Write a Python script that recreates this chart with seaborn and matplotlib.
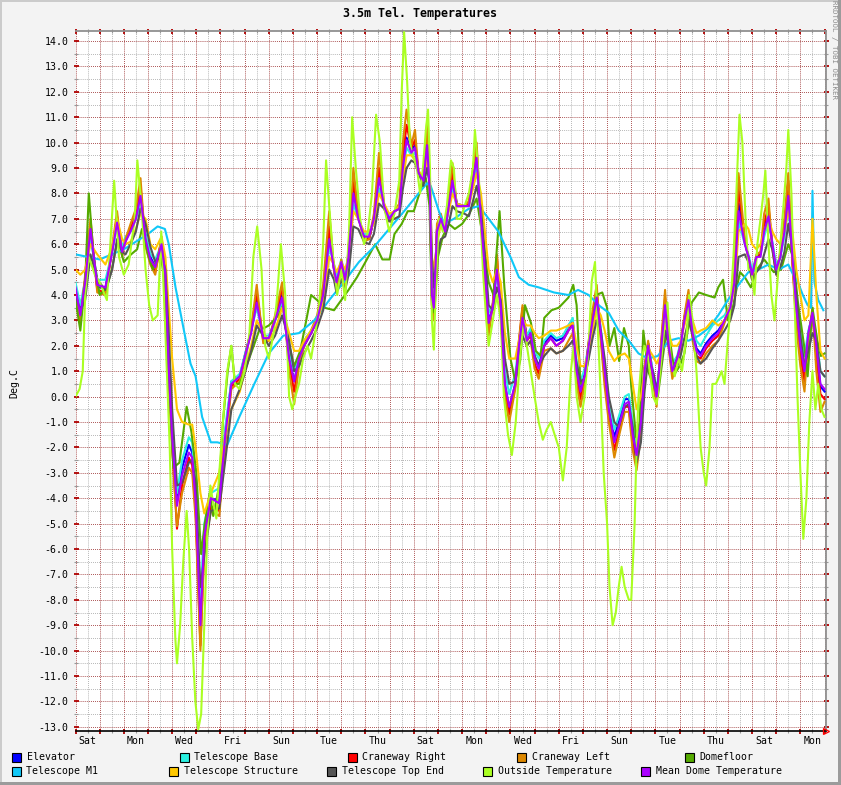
import matplotlib
matplotlib.use("Agg")
import matplotlib.pyplot as plt
import seaborn as sns
import numpy as np
import pandas as pd
from matplotlib.patches import Rectangle
from matplotlib.ticker import MultipleLocator, FixedLocator, FuncFormatter, NullFormatter, FormatStrFormatter

# ---------------- data (days since start, deg C) ----------------
T_NEAR = [
    [0.0, 0.2, 0.4, 0.62, 0.9], [1.24, 1.52, 1.72, 1.93], [2.07, 2.28, 2.5, 2.69, 2.9],
    [3.1, 3.3, 3.56, 3.72, 3.86], [4.0, 4.2, 4.41, 4.69, 4.83, 4.97], [5.17, 5.33, 5.6, 5.95],
    [6.2, 6.45, 6.8], [7.0, 7.27, 7.5, 7.77], [8.0, 8.26, 8.55, 8.84], [9.05, 9.25, 9.46, 9.75],
    [10.0, 10.25, 10.5, 10.7, 10.8], [11.0, 11.16, 11.3, 11.5, 11.7, 11.94],
    [12.15, 12.35, 12.56, 12.77, 12.98], [13.2, 13.4, 13.55, 13.7, 13.9],
    [14.05, 14.2, 14.4, 14.55, 14.67, 14.75, 14.83, 14.96], [15.12, 15.3, 15.45, 15.6, 15.78],
    [16.1, 16.28, 16.45, 16.6, 16.78, 16.94], [17.1, 17.27, 17.44, 17.6, 17.77, 17.95],
    [18.2, 18.35, 18.5, 18.68, 18.84], [19.0, 19.17, 19.4, 19.67, 19.9],
    [20.17, 20.4, 20.58, 20.74, 20.9], [21.07, 21.24, 21.4, 21.57, 21.74, 21.9],
    [22.07, 22.3, 22.48, 22.73, 22.9], [23.06, 23.22, 23.4, 23.55, 23.7, 23.9],
    [24.05, 24.2, 24.4, 24.55, 24.7, 24.9], [25.04, 25.2, 25.37, 25.54, 25.7, 25.87],
    [26.1, 26.36, 26.6, 26.86], [27.1, 27.27, 27.44, 27.7, 27.85],
    [28.0, 28.18, 28.35, 28.5, 28.68, 28.84], [29.0, 29.17, 29.34, 29.5, 29.67, 29.83],
    [30.0, 30.17, 30.33, 30.5, 30.66, 30.83, 31.0],
]

MEAN_DOME = [
    [4.3, 3.2, 4.5, 6.6, 4.4], [4.3, 5.7, 6.85, 5.7], [6.1, 6.5, 7.0, 7.9, 6.2],
    [5.4, 5.1, 6.0, 4.8, 1.1], [-1.6, -4.3, -3.1, -2.2, -2.4, -4.1], [-9.0, -5.5, -4.0, -4.2],
    [-1.5, 0.5, 0.8], [1.5, 2.5, 3.7, 2.3], [2.3, 3.0, 3.9, 1.5], [0.6, 1.5, 2.0, 2.5],
    [3.0, 4.0, 6.2, 5.0, 4.5], [5.3, 4.6, 5.5, 8.0, 7.0, 6.3], [6.3, 7.0, 8.6, 7.5, 7.0],
    [7.3, 7.4, 9.0, 10.1, 9.6], [9.8, 8.8, 8.5, 9.9, 8.0, 4.0, 3.5, 6.5],
    [7.0, 6.5, 7.5, 8.5, 7.5], [7.5, 7.5, 8.5, 9.4, 7.0, 5.0], [2.9, 3.5, 5.0, 3.5, 0.5, -0.4],
    [0.5, 2.0, 3.1, 2.2, 2.5], [1.5, 1.1, 2.0, 2.3, 2.0], [2.2, 2.6, 2.8, 1.0, 0.2],
    [0.8, 2.0, 3.0, 3.9, 2.5, 1.0], [-0.5, -1.8, -1.2, -0.3, -0.2],
    [-1.5, -2.3, -1.0, 1.0, 2.0, 0.8], [0.0, 1.5, 3.6, 2.0, 1.0, 1.5],
    [2.0, 3.0, 3.8, 2.5, 1.8, 1.6], [2.0, 2.3, 2.5, 3.0], [3.5, 4.5, 7.3, 6.0, 5.5],
    [4.8, 5.5, 5.5, 6.5, 7.1, 6.0], [5.0, 5.5, 6.5, 7.9, 5.5, 3.5],
    [2.0, 1.0, 2.5, 3.3, 2.0, 0.5, 0.3],
]

ELEVATOR = [
    [4.2, 3.3, 4.6, 6.5, 4.3], [4.3, 5.8, 6.9, 5.8], [6.2, 6.6, 7.1, 8.0, 6.2],
    [5.5, 5.1, 6.1, 4.9, 1.3], [-1.4, -4.1, -2.8, -1.9, -2.2, -3.9], [-8.9, -5.3, -4.0, -4.1],
    [-1.4, 0.6, 0.8], [1.6, 2.6, 3.8, 2.3], [2.3, 3.0, 4.0, 1.5], [0.6, 1.5, 2.0, 2.5],
    [3.0, 4.1, 6.4, 5.0, 4.4], [5.3, 4.5, 5.6, 8.3, 7.1, 6.3], [6.2, 7.0, 8.9, 7.5, 7.0],
    [7.3, 7.4, 9.2, 10.2, 9.7], [9.9, 8.8, 8.5, 10.0, 8.0, 4.0, 3.6, 6.6],
    [7.0, 6.6, 7.6, 8.7, 7.6], [7.5, 7.6, 8.6, 9.5, 7.0, 5.0], [2.9, 3.6, 5.2, 3.5, 0.5, -0.5],
    [0.5, 2.1, 3.3, 2.4, 2.6], [1.6, 1.2, 2.1, 2.4, 2.2], [2.3, 2.8, 3.0, 1.1, 0.2],
    [0.9, 2.1, 3.1, 4.0, 2.6, 1.0], [-0.5, -1.6, -1.0, -0.1, -0.1],
    [-1.5, -2.2, -0.9, 1.1, 2.1, 0.9], [0.0, 1.5, 3.7, 2.1, 1.1, 1.5],
    [2.1, 3.1, 3.9, 2.6, 1.9, 1.7], [2.1, 2.4, 2.6, 3.0], [3.5, 4.6, 7.6, 6.1, 5.5],
    [4.8, 5.5, 5.6, 6.7, 7.2, 6.0], [5.0, 5.5, 6.6, 8.0, 5.4, 3.4],
    [1.9, 0.9, 2.5, 3.3, 1.9, 0.4, 0.2],
]

TELESCOPE_BASE = [
    [4.5, 3.6, 4.6, 6.3, 4.6], [4.6, 5.7, 6.7, 5.9], [6.3, 6.5, 7.0, 7.6, 6.4],
    [5.6, 5.4, 6.0, 5.0, 1.6], [-1.0, -3.8, -2.5, -1.6, -1.8, -3.6], [-8.0, -5.0, -3.8, -3.6],
    [-1.2, 0.6, 0.9], [1.6, 2.6, 3.5, 2.4], [2.4, 3.0, 3.7, 1.8], [1.0, 1.6, 2.2, 2.6],
    [3.1, 4.0, 5.9, 5.2, 4.7], [5.4, 4.8, 5.6, 7.6, 7.0, 6.4], [6.4, 7.0, 8.2, 7.5, 7.1],
    [7.3, 7.4, 8.8, 9.8, 9.5], [9.6, 8.8, 8.5, 9.6, 8.1, 4.5, 4.0, 6.4],
    [6.9, 6.6, 7.4, 8.2, 7.5], [7.5, 7.5, 8.3, 9.0, 7.2, 5.3], [3.3, 3.6, 4.8, 3.7, 1.0, 0.1],
    [0.9, 2.1, 3.1, 2.4, 2.7], [1.8, 1.5, 2.2, 2.5, 2.3], [2.4, 2.8, 3.1, 1.4, 0.6],
    [1.1, 2.1, 3.0, 3.7, 2.7, 1.3], [-0.1, -1.3, -0.8, 0.0, 0.1],
    [-1.0, -1.9, -0.7, 1.1, 2.0, 1.0], [0.3, 1.5, 3.4, 2.2, 1.3, 1.6],
    [2.1, 3.0, 3.6, 2.7, 2.2, 2.0], [2.4, 2.8, 3.0, 3.2], [3.6, 4.5, 6.9, 6.0, 5.6],
    [5.0, 5.5, 5.6, 6.3, 6.9, 6.1], [5.2, 5.5, 6.3, 7.5, 5.6, 4.0],
    [2.6, 1.6, 2.6, 3.2, 2.4, 1.0, 0.8],
]

CRANEWAY_RIGHT = [
    [4.2, 3.0, 4.6, 6.8, 4.2], [4.1, 5.8, 7.1, 5.6], [6.1, 6.6, 7.2, 8.3, 6.0],
    [5.3, 4.9, 6.2, 4.6, 0.8], [-1.9, -5.2, -3.5, -2.4, -2.7, -4.5], [-9.8, -5.9, -4.3, -4.5],
    [-1.7, 0.4, 0.7], [1.5, 2.6, 4.1, 2.2], [2.2, 3.1, 4.3, 1.3], [0.2, 1.4, 2.0, 2.5],
    [3.0, 4.1, 6.7, 5.0, 4.3], [5.3, 4.4, 5.6, 8.5, 7.1, 6.2], [6.2, 7.0, 9.0, 7.5, 6.9],
    [7.3, 7.4, 9.4, 10.7, 9.8], [10.1, 8.8, 8.5, 10.3, 8.0, 3.8, 3.3, 6.6],
    [7.1, 6.5, 7.7, 8.9, 7.5], [7.5, 7.6, 8.8, 9.8, 7.0, 4.8], [2.6, 3.6, 5.5, 3.4, 0.2, -0.7],
    [0.4, 2.1, 3.5, 2.2, 2.4], [1.3, 0.9, 2.0, 2.3, 2.0], [2.2, 2.6, 2.9, 0.8, -0.1],
    [0.7, 2.1, 3.2, 4.2, 2.4, 0.7], [-0.8, -2.1, -1.4, -0.4, -0.4],
    [-1.8, -2.6, -1.2, 1.1, 2.1, 0.7], [-0.2, 1.6, 3.9, 2.0, 0.9, 1.5],
    [2.0, 3.1, 4.0, 2.4, 1.6, 1.5], [1.9, 2.2, 2.4, 3.0], [3.5, 4.7, 8.2, 6.1, 5.5],
    [4.7, 5.5, 5.6, 6.8, 7.5, 5.9], [4.9, 5.6, 6.8, 8.5, 5.3, 3.1],
    [1.6, 0.6, 2.4, 3.3, 1.6, 0.1, -0.1],
]

CRANEWAY_LEFT = [
    [4.0, 2.9, 4.8, 7.0, 4.1], [4.0, 5.9, 7.3, 5.5], [6.2, 6.8, 7.4, 8.6, 5.9],
    [5.2, 4.8, 6.3, 4.5, 0.6], [-2.0, -5.1, -3.8, -2.8, -3.0, -4.8], [-10.0, -6.0, -4.5, -4.7],
    [-1.8, 0.3, 0.6], [1.4, 2.7, 4.4, 2.1], [2.2, 3.2, 4.5, 1.0], [-0.3, 1.2, 2.0, 2.6],
    [3.2, 4.4, 7.3, 5.0, 4.2], [5.4, 4.3, 5.8, 9.0, 7.2, 6.1], [6.2, 7.2, 9.6, 7.6, 6.9],
    [7.3, 7.6, 10.0, 11.3, 9.9], [10.5, 8.8, 8.6, 10.8, 8.0, 3.6, 3.0, 6.8],
    [7.2, 6.5, 8.0, 9.2, 7.5], [7.5, 7.7, 9.0, 10.0, 6.8, 4.6], [2.4, 3.7, 5.6, 3.3, 0.0, -1.0],
    [0.3, 2.2, 3.6, 2.0, 2.2], [1.1, 0.7, 1.8, 1.9, 1.7], [1.8, 2.2, 2.5, 0.5, -0.4],
    [0.5, 2.2, 3.4, 4.4, 2.2, 0.4], [-1.0, -2.4, -1.6, -0.6, -0.6],
    [-2.1, -2.9, -1.5, 1.2, 2.2, 0.6], [-0.4, 1.7, 4.2, 1.9, 0.7, 1.4],
    [1.9, 3.2, 4.2, 2.2, 1.4, 1.3], [1.7, 2.0, 2.2, 2.9], [3.5, 4.8, 8.8, 6.2, 5.4],
    [4.6, 5.6, 5.7, 7.2, 7.8, 5.8], [4.8, 5.7, 7.0, 8.8, 5.2, 2.8],
    [1.2, 0.2, 2.3, 3.5, 1.0, -0.6, -0.2],
]

TELESCOPE_TOP_END = [
    [4.0, 3.4, 3.8, 5.6, 4.6], [4.2, 5.0, 6.2, 5.7], [5.6, 6.0, 6.5, 7.4, 6.8],
    [5.9, 5.3, 5.6, 5.0, 2.5], [-0.5, -3.5, -3.4, -2.6, -2.5, -3.4], [-7.5, -6.3, -4.5, -4.4],
    [-2.5, -0.5, 0.3], [0.9, 1.8, 2.8, 2.4], [2.0, 2.4, 3.2, 2.2], [1.0, 1.2, 1.7, 2.2],
    [2.7, 3.4, 5.0, 4.6, 4.1], [4.6, 4.2, 4.8, 6.7, 6.6, 6.1], [6.0, 6.4, 7.6, 7.4, 6.9],
    [7.0, 7.1, 8.2, 9.0, 9.3], [9.2, 8.8, 8.3, 9.0, 8.3, 5.5, 4.3, 5.5],
    [6.2, 6.3, 6.8, 7.5, 7.3], [7.2, 7.1, 7.7, 8.3, 7.4, 5.6], [3.6, 3.4, 4.3, 3.8, 1.5, 0.5],
    [0.6, 1.6, 2.4, 2.0, 2.2], [1.6, 1.2, 1.6, 1.9, 1.7], [1.8, 2.0, 2.2, 1.3, 0.6],
    [0.7, 1.5, 2.3, 3.0, 2.6, 1.5], [0.0, -1.0, -1.2, -0.4, -0.3],
    [-1.2, -2.6, -1.8, 0.2, 1.5, 1.0], [0.3, 1.0, 2.6, 2.0, 1.2, 1.2],
    [1.6, 2.3, 3.0, 2.4, 1.6, 1.3], [1.5, 1.9, 2.2, 2.6], [3.0, 3.6, 5.5, 5.6, 5.3],
    [4.6, 4.9, 5.1, 5.6, 6.2, 5.8], [4.8, 5.1, 5.7, 6.8, 5.8, 4.0],
    [2.4, 1.2, 1.8, 2.5, 2.2, 1.0, 0.8],
]

TELESCOPE_STRUCTURE = [
    [5.0, 4.8, 5.0, 6.0, 5.6], [5.2, 5.9, 7.0, 6.2], [6.0, 6.1, 6.6, 7.2, 7.0],
    [6.0, 5.8, 6.3, 5.5, 3.5], [1.5, -0.5, -1.0, -1.1, -1.1, -2.0], [-3.8, -4.6, -3.8, -3.0],
    [-1.5, -0.5, 0.2], [1.0, 2.0, 3.0, 2.5], [2.2, 2.6, 3.5, 2.5], [1.8, 1.8, 2.2, 2.6],
    [3.0, 3.7, 5.5, 5.2, 4.9], [5.3, 5.0, 5.5, 7.3, 7.0, 6.5], [6.5, 6.8, 8.0, 7.6, 7.2],
    [7.3, 7.5, 8.5, 9.5, 9.5], [9.3, 8.9, 8.6, 9.3, 8.5, 5.5, 5.0, 6.0],
    [6.8, 6.8, 7.3, 8.0, 7.6], [7.5, 7.5, 8.2, 8.8, 8.0, 6.5], [5.0, 4.5, 5.0, 4.5, 2.5, 1.5],
    [1.5, 2.2, 3.0, 2.8, 2.8], [2.5, 2.3, 2.4, 2.6, 2.6], [2.7, 2.8, 2.9, 2.0, 1.2],
    [1.2, 1.8, 2.6, 3.5, 3.2, 2.6], [1.8, 1.4, 1.6, 1.7, 1.5],
    [0.5, -0.5, 0.0, 1.0, 1.9, 1.6], [1.3, 1.6, 2.8, 2.5, 2.0, 2.0],
    [2.2, 2.8, 3.4, 3.0, 2.5, 2.6], [2.7, 3.0, 2.8, 3.0], [3.6, 4.2, 6.5, 6.8, 6.6],
    [6.0, 5.8, 6.0, 6.5, 7.0, 6.5], [6.2, 6.0, 6.5, 7.3, 6.5, 5.0],
    [4.0, 3.0, 3.2, 7.0, 4.0, 1.8, 1.5],
]

DOMEFLOOR_T = [0.0, 0.2, 0.4, 0.55, 0.75, 1.0, 1.3, 1.5, 1.75, 2.0,
               2.3, 2.55, 2.75, 3.0, 3.2, 3.5, 3.7, 3.85, 4.05, 4.3,
               4.6, 4.8, 5.0, 5.2, 5.35, 5.55, 5.7, 5.95, 6.1, 6.3,
               6.45, 6.6, 6.8, 7.0, 7.3, 7.6, 8.0, 8.4, 8.6, 8.85,
               9.05, 9.3, 9.55, 9.75, 10.0, 10.3, 10.7, 11.0, 11.3, 11.65,
               12.0, 12.4, 12.7, 13.0, 13.2, 13.5, 13.75, 14.0, 14.3, 14.5,
               14.65, 14.75, 14.85, 15.0, 15.2, 15.45, 15.7, 16.0, 16.3, 16.6,
               16.85, 17.1, 17.3, 17.55, 17.75, 18.0, 18.2, 18.4, 18.6, 18.85,
               19.05, 19.25, 19.4, 19.7, 20.0, 20.4, 20.6, 20.74, 20.9, 21.07,
               21.3, 21.55, 21.8, 22.0, 22.1, 22.3, 22.5, 22.7, 22.9, 23.0,
               23.2, 23.35, 23.5, 23.7, 23.9, 24.1, 24.3, 24.5, 24.8, 25.0,
               25.2, 25.5, 25.8, 26.1, 26.45, 26.6, 26.8, 27.0, 27.2, 27.5,
               27.7, 27.95, 28.2, 28.5, 28.9, 29.2, 29.5, 29.7, 29.9, 30.2,
               30.3, 30.5, 30.7, 30.85, 31.0]
DOMEFLOOR = [3.8, 2.6, 4.5, 8.0, 5.5, 4.0, 4.3, 5.0, 6.2, 5.3,
             5.6, 5.8, 6.6, 5.6, 5.0, 5.7, 4.5, 1.0, -2.8, -2.6,
             -0.4, -1.4, -3.0, -6.2, -5.0, -3.8, -4.7, -3.5, -1.0, 1.0,
             2.0, 0.5, 0.5, 1.0, 1.8, 2.6, 2.8, 3.2, 3.6, 2.0,
             1.2, 1.8, 3.0, 4.0, 3.8, 3.5, 3.4, 3.8, 4.2, 4.7,
             5.3, 6.0, 5.4, 5.4, 6.4, 6.8, 7.3, 7.3, 8.2, 8.6,
             7.5, 3.6, 3.3, 5.5, 6.3, 6.8, 6.6, 6.8, 7.2, 7.8,
             6.3, 4.5, 4.0, 7.3, 4.3, 1.5, 0.6, 1.4, 3.6, 2.9,
             1.8, 1.6, 3.1, 3.4, 3.5, 3.9, 4.4, 3.6, 0.5, 0.6,
             2.0, 4.0, 4.1, 3.5, 2.0, 2.7, 1.4, 2.7, 2.0, 0.4,
             -1.6, -1.0, 2.6, 1.0, 0.5, 0.0, 1.5, 2.9, 0.9, 1.2,
             1.7, 3.7, 4.1, 4.0, 3.9, 4.3, 4.6, 3.0, 3.5, 4.9,
             4.7, 4.3, 5.0, 5.4, 4.9, 5.0, 6.0, 5.5, 3.7, 1.7,
             0.8, 3.5, 2.2, 1.6, 1.7]

M1_T = [0.0, 0.5, 1.0, 1.5, 2.0, 2.5, 3.0, 3.4, 3.7, 3.86,
        4.14, 4.55, 4.76, 4.97, 5.24, 5.6, 5.87, 6.28, 6.78, 7.4,
        8.0, 8.6, 9.25, 9.88, 10.5, 11.1, 11.73, 12.36, 12.98, 13.6,
        14.2, 14.55, 14.7, 15.04, 15.25, 15.66, 16.28, 16.7, 17.1, 17.5,
        17.7, 18.0, 18.35, 18.76, 19.17, 19.8, 20.4, 20.8, 21.24, 21.65,
        22.07, 22.48, 22.9, 23.3, 23.7, 24.1, 24.55, 24.96, 25.37, 25.8,
        26.2, 26.6, 27.0, 27.44, 27.85, 28.26, 28.68, 29.1, 29.5, 29.7,
        29.9, 30.1, 30.3, 30.44, 30.5, 30.58, 30.74, 30.95]
TELESCOPE_M1 = [5.6, 5.5, 5.4, 5.6, 5.8, 6.1, 6.4, 6.7, 6.6, 6.0,
                4.3, 2.3, 1.3, 0.8, -0.8, -1.8, -1.8, -1.9, -0.8, 0.5,
                1.7, 2.4, 2.5, 3.0, 3.8, 4.5, 5.3, 5.9, 6.6, 7.3,
                8.0, 8.4, 8.3, 7.3, 6.8, 7.0, 7.4, 7.5, 7.0, 6.5,
                6.1, 5.5, 4.7, 4.4, 4.3, 4.1, 4.0, 4.2, 4.0, 3.6,
                3.3, 2.6, 2.2, 1.7, 1.5, 1.6, 2.2, 2.3, 2.2, 2.4,
                2.7, 3.2, 3.8, 4.4, 4.9, 5.0, 5.2, 5.0, 5.2, 4.8,
                4.5, 4.0, 3.6, 3.5, 8.1, 4.5, 3.8, 3.4]

OUTSIDE_T = [0.0, 0.17, 0.3, 0.4, 0.55, 0.8, 1.0, 1.3, 1.6, 1.8,
             2.0, 2.2, 2.45, 2.56, 2.73, 2.9, 3.05, 3.2, 3.4, 3.55,
             3.7, 3.9, 4.0, 4.13, 4.2, 4.33, 4.46, 4.6, 4.7, 4.83,
             4.96, 5.08, 5.2, 5.33, 5.45, 5.58, 5.7, 5.83, 5.95, 6.1,
             6.28, 6.45, 6.6, 6.78, 7.0, 7.2, 7.36, 7.52, 7.7, 7.85,
             8.0, 8.2, 8.35, 8.5, 8.68, 8.84, 8.97, 9.1, 9.25, 9.42,
             9.6, 9.75, 9.92, 10.08, 10.25, 10.37, 10.5, 10.66, 10.83, 11.0,
             11.16, 11.32, 11.45, 11.6, 11.78, 11.94, 12.1, 12.27, 12.44, 12.6,
             12.77, 12.98, 13.2, 13.4, 13.5, 13.6, 13.72, 13.84, 13.97, 14.13,
             14.26, 14.38, 14.5, 14.59, 14.67, 14.75, 14.83, 14.9, 15.04, 15.2,
             15.37, 15.54, 15.66, 15.78, 15.95, 16.1, 16.28, 16.45, 16.53, 16.7,
             16.86, 17.0, 17.1, 17.27, 17.44, 17.6, 17.73, 17.9, 18.06, 18.22,
             18.39, 18.55, 18.68, 18.84, 19.0, 19.17, 19.34, 19.5, 19.67, 19.83,
             20.0, 20.17, 20.33, 20.5, 20.62, 20.74, 20.9, 21.07, 21.24, 21.36,
             21.5, 21.6, 21.74, 21.86, 22.0, 22.1, 22.23, 22.36, 22.48, 22.6,
             22.73, 22.9, 23.0, 23.14, 23.22, 23.3, 23.43, 23.55, 23.7, 23.9,
             24.05, 24.2, 24.4, 24.5, 24.63, 24.8, 24.96, 25.1, 25.3, 25.4,
             25.54, 25.7, 25.87, 26.0, 26.1, 26.24, 26.36, 26.5, 26.6, 26.74,
             26.86, 26.98, 27.1, 27.23, 27.35, 27.48, 27.6, 27.73, 27.85, 27.97,
             28.1, 28.22, 28.35, 28.47, 28.55, 28.68, 28.8, 28.93, 29.05, 29.17,
             29.3, 29.42, 29.5, 29.63, 29.75, 29.88, 30.0, 30.12, 30.25, 30.37,
             30.5, 30.62, 30.74, 30.87, 31.0]
OUTSIDE = [0.0, 0.3, 1.0, 4.0, 5.5, 4.8, 4.5, 3.8, 8.5, 5.5,
           4.8, 5.2, 7.0, 9.3, 7.5, 5.0, 3.6, 3.0, 3.2, 6.5,
           3.0, -2.0, -6.0, -9.5, -10.5, -9.0, -6.5, -4.5, -6.0, -9.5,
           -12.0, -13.1, -12.5, -9.0, -5.5, -3.5, -4.2, -4.8, -3.0, -1.0,
           1.0, 2.0, 0.5, 0.3, 1.0, 2.5, 5.5, 6.7, 5.0, 2.0,
           1.5, 2.5, 4.0, 6.0, 4.0, 0.0, -0.5, 0.0, 0.5, 1.5,
           2.0, 1.5, 2.5, 3.5, 6.0, 9.3, 7.5, 5.5, 4.0, 5.0,
           3.8, 6.5, 11.0, 9.0, 7.0, 6.0, 6.5, 8.0, 11.1, 10.0,
           7.5, 6.5, 7.2, 8.5, 12.0, 14.35, 12.5, 10.0, 9.5, 9.0,
           8.0, 9.0, 10.5, 11.3, 9.0, 3.0, 1.85, 4.0, 7.0, 6.5,
           7.5, 9.3, 9.0, 7.0, 7.0, 7.5, 8.0, 9.0, 10.5, 8.5,
           5.0, 3.0, 2.0, 3.0, 4.0, 3.0, 0.0, -1.5, -2.3, -1.0,
           1.5, 3.0, 2.0, 1.0, 0.0, -1.0, -1.7, -1.3, -1.0, -1.5,
           -2.0, -3.3, -2.0, 1.0, 2.0, 0.0, -1.0, 0.0, 2.0, 4.5,
           5.3, 3.0, 0.0, -3.0, -5.0, -7.5, -9.0, -8.5, -7.5, -6.7,
           -7.5, -8.0, -8.0, -5.0, -2.0, 0.0, 1.5, 2.0, 1.5, 0.0,
           -0.3, 1.0, 3.0, 3.7, 1.5, 0.8, 1.5, 1.0, 2.5, 4.0,
           3.0, 1.0, -2.0, -3.0, -3.5, -2.0, 0.5, 0.5, 0.7, 1.0,
           0.5, 2.0, 3.5, 5.5, 8.0, 11.1, 10.0, 7.0, 5.0, 5.0,
           4.0, 6.0, 7.0, 8.0, 8.9, 6.0, 4.0, 3.0, 4.5, 6.0,
           7.5, 9.0, 10.5, 8.0, 4.0, 0.0, -3.0, -5.6, -4.0, -1.0,
           1.0, -0.5, 0.5, -0.5, -0.8]

X_LABELS = ["Sat", "Mon", "Wed", "Fri", "Sun", "Tue", "Thu", "Sat",
            "Mon", "Wed", "Fri", "Sun", "Tue", "Thu", "Sat", "Mon"]
X_LABEL_POS = [0.5 + 2 * i for i in range(len(X_LABELS))]

SERIES_NAMES = ["Elevator", "Telescope Base", "Craneway Right", "Craneway Left", "Domefloor",
                "Telescope M1", "Telescope Structure", "Telescope Top End",
                "Outside Temperature", "Mean Dome Temperature"]
COLORS = {
    "Elevator": "#0000FF", "Telescope Base": "#2AF0E0", "Craneway Right": "#FF0000",
    "Craneway Left": "#DD8800", "Domefloor": "#55AA00", "Telescope M1": "#10C8F8",
    "Telescope Structure": "#FFC800", "Telescope Top End": "#555555",
    "Outside Temperature": "#AAFF22", "Mean Dome Temperature": "#AA00FF",
}


def flat(groups):
    return [v for g in groups for v in g]


for nm, grp in [("MEAN", MEAN_DOME), ("ELEV", ELEVATOR), ("BASE", TELESCOPE_BASE),
                ("CR", CRANEWAY_RIGHT), ("CL", CRANEWAY_LEFT), ("TOP", TELESCOPE_TOP_END),
                ("STR", TELESCOPE_STRUCTURE)]:
    for i, (a, b) in enumerate(zip(T_NEAR, grp)):
        assert len(a) == len(b), (nm, i, len(a), len(b))
assert len(DOMEFLOOR_T) == len(DOMEFLOOR)
assert len(M1_T) == len(TELESCOPE_M1)
assert len(OUTSIDE_T) == len(OUTSIDE), (len(OUTSIDE_T), len(OUTSIDE))

tn = flat(T_NEAR)
series_data = {
    "Elevator": (tn, flat(ELEVATOR)),
    "Telescope Base": (tn, flat(TELESCOPE_BASE)),
    "Craneway Right": (tn, flat(CRANEWAY_RIGHT)),
    "Craneway Left": (tn, flat(CRANEWAY_LEFT)),
    "Domefloor": (DOMEFLOOR_T, DOMEFLOOR),
    "Telescope M1": (M1_T, TELESCOPE_M1),
    "Telescope Structure": (tn, flat(TELESCOPE_STRUCTURE)),
    "Telescope Top End": (tn, flat(TELESCOPE_TOP_END)),
    "Outside Temperature": (OUTSIDE_T, OUTSIDE),
    "Mean Dome Temperature": (tn, flat(MEAN_DOME)),
}
df = pd.concat([pd.DataFrame({"day": t, "temp": v, "series": n})
                for n, (t, v) in series_data.items()], ignore_index=True)

# ---------------- figure ----------------
W, H = 841, 785
plt.rcParams["font.family"] = ["DejaVu Sans Mono", "DejaVu Sans"]
plt.rcParams["axes.unicode_minus"] = False
fig = plt.figure(figsize=(W / 100, H / 100), dpi=100, facecolor="#F3F3F3")

L, R, TOP, BOT = 75.5, 826.0, 31.0, 731.0
ax = fig.add_axes([L / W, 1 - BOT / H, (R - L) / W, (BOT - TOP) / H])
ax.set_facecolor("white")

for z, name in enumerate(SERIES_NAMES):
    sub = df[df["series"] == name]
    sns.lineplot(data=sub, x="day", y="temp", color=COLORS[name], linewidth=1.5,
                 estimator=None, sort=False, legend=False, ax=ax, zorder=3 + z)

ax.set_xlim(0, 31.06)
ax.set_ylim(-13.165, 14.394)
ax.set_xlabel("")
ax.set_ylabel("")

ax.xaxis.set_major_locator(MultipleLocator(1))
ax.xaxis.set_minor_locator(FixedLocator(np.arange(0.5, 31.0, 1.0)))
ax.xaxis.set_major_formatter(NullFormatter())
label_map = {round(p, 1): s for p, s in zip(X_LABEL_POS, X_LABELS)}
ax.xaxis.set_minor_formatter(FuncFormatter(lambda x, p: label_map.get(round(x, 1), "")))
ax.yaxis.set_major_locator(MultipleLocator(1))
ax.yaxis.set_minor_locator(MultipleLocator(0.5))
ax.yaxis.set_major_formatter(FormatStrFormatter("%.1f"))

dot = (0, (1, 1.4))
ax.grid(which="major", color="#8B1010", linestyle=dot, linewidth=0.62, alpha=0.9)
ax.grid(which="minor", color="#9A9A9A", linestyle=dot, linewidth=0.62, alpha=0.9)
ax.set_axisbelow(True)

ax.tick_params(which="major", direction="inout", length=3.6, width=1.3, color="#B00000",
               top=True, right=True, labelsize=7.1, pad=3.2, labelcolor="black")
ax.tick_params(which="minor", direction="inout", length=3.0, width=0.8, color="#999999",
               top=True, right=True, labelsize=7.1, pad=2.2)
ax.tick_params(axis="y", which="minor", labelleft=False)

for s in ["top", "right"]:
    ax.spines[s].set_color("#909090")
    ax.spines[s].set_linewidth(1.3)
ax.spines["left"].set_visible(False)
ax.spines["bottom"].set_color("black")
ax.spines["bottom"].set_linewidth(1.2)
ax.plot([1.0], [0.0], marker=">", markersize=5, markerfacecolor="none",
        markeredgecolor="red", markeredgewidth=0.9, transform=ax.transAxes,
        clip_on=False, zorder=20)

# texts
fig.text(420 / W, 1 - 14 / H, "3.5m Tel. Temperatures", ha="center", va="center",
         fontsize=8.4, fontweight="bold", color="black")
fig.text(14 / W, 1 - 383 / H, "Deg.C", ha="center", va="center", rotation=90,
         fontsize=7.1, color="black")
fig.text(834 / W, 1 - 50 / H, "RRDTOOL / TOBI OETIKER", ha="center", va="center",
         rotation=270, fontsize=5.4, color="#8C8C8C")

# legend (two justified rows)
ROW1 = ["Elevator", "Telescope Base", "Craneway Right", "Craneway Left", "Domefloor"]
ROW2 = ["Telescope M1", "Telescope Structure", "Telescope Top End",
        "Outside Temperature", "Mean Dome Temperature"]
ROW1_X = [12, 180, 348, 517, 685]
ROW2_X = [12, 169, 327, 483, 641]
for names, xs, ytop in [(ROW1, ROW1_X, 753), (ROW2, ROW2_X, 767)]:
    for n, x0 in zip(names, xs):
        fig.add_artist(Rectangle((x0 / W, 1 - (ytop + 9) / H), 9 / W, 9 / H,
                                 transform=fig.transFigure, facecolor=COLORS[n],
                                 edgecolor="black", linewidth=0.8))
        fig.text((x0 + 14.5) / W, 1 - (ytop + 4.5) / H, n, ha="left", va="center",
                 fontsize=7.1, color="black")

# outer 3D frame
fig.add_artist(Rectangle((0, 0), 2 / W, 1, transform=fig.transFigure, facecolor="#CBCBCB", edgecolor="none"))
fig.add_artist(Rectangle((0, 1 - 2 / H), 1, 2 / H, transform=fig.transFigure, facecolor="#CBCBCB", edgecolor="none"))
fig.add_artist(Rectangle((0, 0), 1, 3 / H, transform=fig.transFigure, facecolor="#9B9B9B", edgecolor="none"))
fig.add_artist(Rectangle((1 - 3 / W, 0), 3 / W, 1, transform=fig.transFigure, facecolor="#9B9B9B", edgecolor="none"))

fig.savefig("out.png", dpi=100, facecolor=fig.get_facecolor())
